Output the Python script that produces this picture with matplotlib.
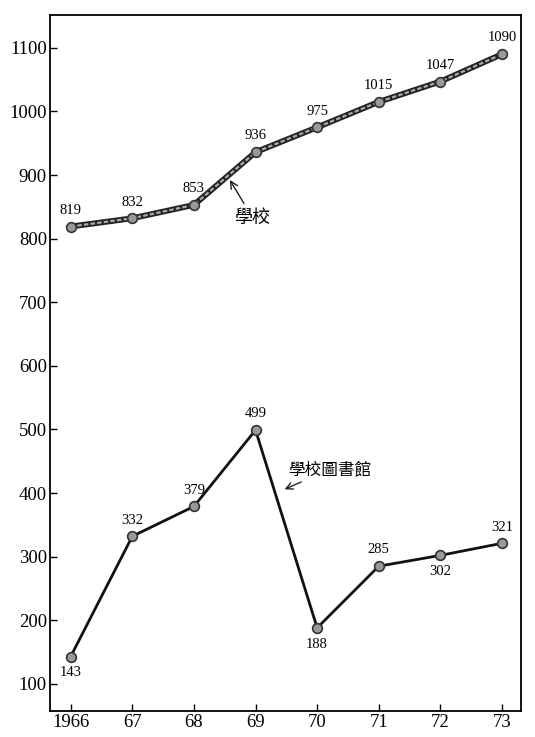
import matplotlib
matplotlib.use('Agg')
import matplotlib.pyplot as plt

plt.rcParams['font.family'] = ['Liberation Serif', 'DejaVu Serif']

years = [1966, 1967, 1968, 1969, 1970, 1971, 1972, 1973]
year_labels = ['1966', '67', '68', '69', '70', '71', '72', '73']
schools = [819, 832, 853, 936, 975, 1015, 1047, 1090]
libraries = [143, 332, 379, 499, 188, 285, 302, 321]
# labels below the point for these library values
below = [143, 188, 302]

fig = plt.figure(figsize=(5.35, 7.37), dpi=100)
ax = fig.add_axes([0.093, 0.035, 0.881, 0.945])

# 學校: double-edged grey line
ax.plot(years, schools, color='#222222', lw=4.2, zorder=2)
ax.plot(years, schools, color='#aaaaaa', lw=1.6, ls=(0, (2, 1)), zorder=3)
ax.plot(years, schools, ls='none', marker='o', ms=7, mfc='#999999',
        mec='#333333', mew=1.2, zorder=4)

# 學校圖書館
ax.plot(years, libraries, color='#111111', lw=2, zorder=2)
ax.plot(years, libraries, ls='none', marker='o', ms=7, mfc='#999999',
        mec='#333333', mew=1.2, zorder=4)

for x, v in zip(years, schools):
    ax.annotate(str(v), (x, v), xytext=(0, 7), textcoords='offset points',
                ha='center', va='bottom', fontsize=10.5)

for x, v in zip(years, libraries):
    if v in below:
        ax.annotate(str(v), (x, v), xytext=(0, -7), textcoords='offset points',
                    ha='center', va='top', fontsize=10.5)
    else:
        ax.annotate(str(v), (x, v), xytext=(0, 7), textcoords='offset points',
                    ha='center', va='bottom', fontsize=10.5)

ax.annotate('學校', xy=(1968.56, 896), xytext=(1968.95, 833),
            ha='center', va='center', fontsize=13,
            family=['Noto Sans CJK TC', 'DejaVu Sans'],
            arrowprops=dict(arrowstyle='->', color='#222222', lw=1))
ax.annotate('學校圖書館', xy=(1969.45, 405), xytext=(1970.2, 437),
            ha='center', va='center', fontsize=12,
            family=['Noto Sans CJK TC', 'DejaVu Sans'],
            arrowprops=dict(arrowstyle='->', color='#222222', lw=1,
                            shrinkA=2, shrinkB=1))

ax.set_xlim(1965.66, 1973.31)
ax.set_ylim(57, 1152)
ax.set_xticks(years)
ax.set_xticklabels(year_labels)
ax.set_yticks(range(100, 1101, 100))
ax.tick_params(direction='in', labelsize=13.5, length=5, width=1, pad=2)
for s in ax.spines.values():
    s.set_linewidth(1.3)

fig.savefig('out.png', dpi=100)
